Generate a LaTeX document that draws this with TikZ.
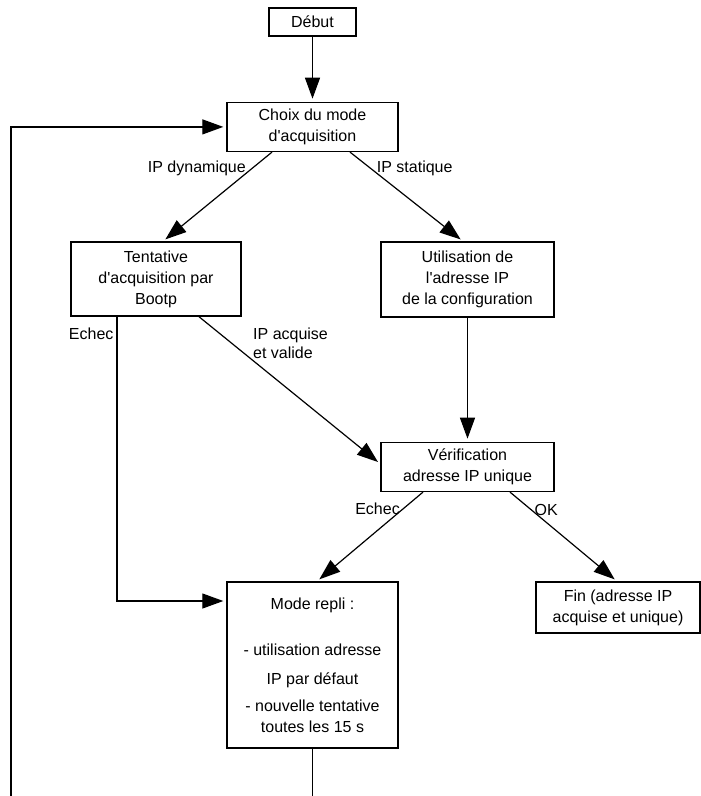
\documentclass[tikz,border=0pt]{standalone}
\usepackage{fontspec}
\setmainfont{Liberation Sans}
\usetikzlibrary{arrows.meta, positioning}
\tikzstyle{box} = [rectangle, draw, line width=1.4pt, align=center,
  inner sep=2pt, font=\fontsize{16}{21}\selectfont]
\tikzstyle{lbl} = [inner sep=3pt, font=\fontsize{16}{19}\selectfont]
\tikzstyle{arrow} = [line width=1.2pt, -{Triangle[length=21pt, width=15pt]}, shorten >=3pt]
\tikzstyle{line} = [line width=1.2pt]

\begin{document}
\begin{tikzpicture}[x=1pt, y=1pt]
    \useasboundingbox (0,0) rectangle (701,-796);
    \node[box, minimum width=87pt, minimum height=28pt] (debut) at (312.5,-22) {Début};
    \node[box, minimum width=171pt, minimum height=49pt, below=65pt of debut] (choix) {Choix du mode\\d\textquotesingle acquisition};
    \node[box, minimum width=170pt, minimum height=74pt] (tent) at (156,-279) {Tentative\\d\textquotesingle acquisition par\\Bootp};
    \node[box, minimum width=173pt, minimum height=75pt] (util) at (467.5,-279.5) {Utilisation de\\l\textquotesingle adresse IP\\de la configuration};
    \node[box, minimum width=173pt, minimum height=49pt, below=124pt of util] (verif) {Vérification\\adresse IP unique};
    \node[box, minimum width=171pt, minimum height=166pt] (repli) at (312.5,-665)
      {Mode repli :\\[25pt]- utilisation adresse\\[8pt]IP par défaut\\[6pt]- nouvelle tentative\\toutes les 15 s};
    \node[box, minimum width=164pt, minimum height=51pt] (fin) at (618,-607.5) {Fin (adresse IP\\acquise et unique)};
    \node[lbl, align=left, anchor=west] (acq) at (250,-343) {IP acquise\\et valide};
    \coordinate (loopbot) at (11,-796);
    \coordinate (replibot) at (312.5,-796);
    % connecteurs
    \draw[arrow] (debut) -- (choix);
    \draw[arrow] ([xshift=-40.5pt]choix.south) -- node[lbl, pos=0.18, anchor=east, xshift=-3pt] {IP dynamique} ([xshift=7pt]tent.north);
    \draw[arrow] ([xshift=37.5pt]choix.south) -- node[lbl, pos=0.18, anchor=west, xshift=3pt] {IP statique} ([xshift=-4.5pt]util.north);
    \draw[arrow] ([xshift=-39pt]tent.south) |- node[lbl, pos=0.03, left] {Echec} ([yshift=64pt]repli.west);
    \draw[arrow] ([xshift=43pt]tent.south) -- ([yshift=3pt]verif.west);
    \draw[arrow] (util) -- (verif);
    \draw[arrow] ([xshift=-44.5pt]verif.south) -- node[lbl, pos=0.185, anchor=east] {Echec} ([xshift=4.5pt]repli.north);
    \draw[arrow] ([xshift=42.5pt]verif.south) -- node[lbl, pos=0.196, anchor=west] {OK} ([xshift=-1pt]fin.north);
    \draw[arrow] (loopbot) |- (choix.west);
    \draw[line] (repli) -- (replibot);
  \end{tikzpicture}
\end{document}
